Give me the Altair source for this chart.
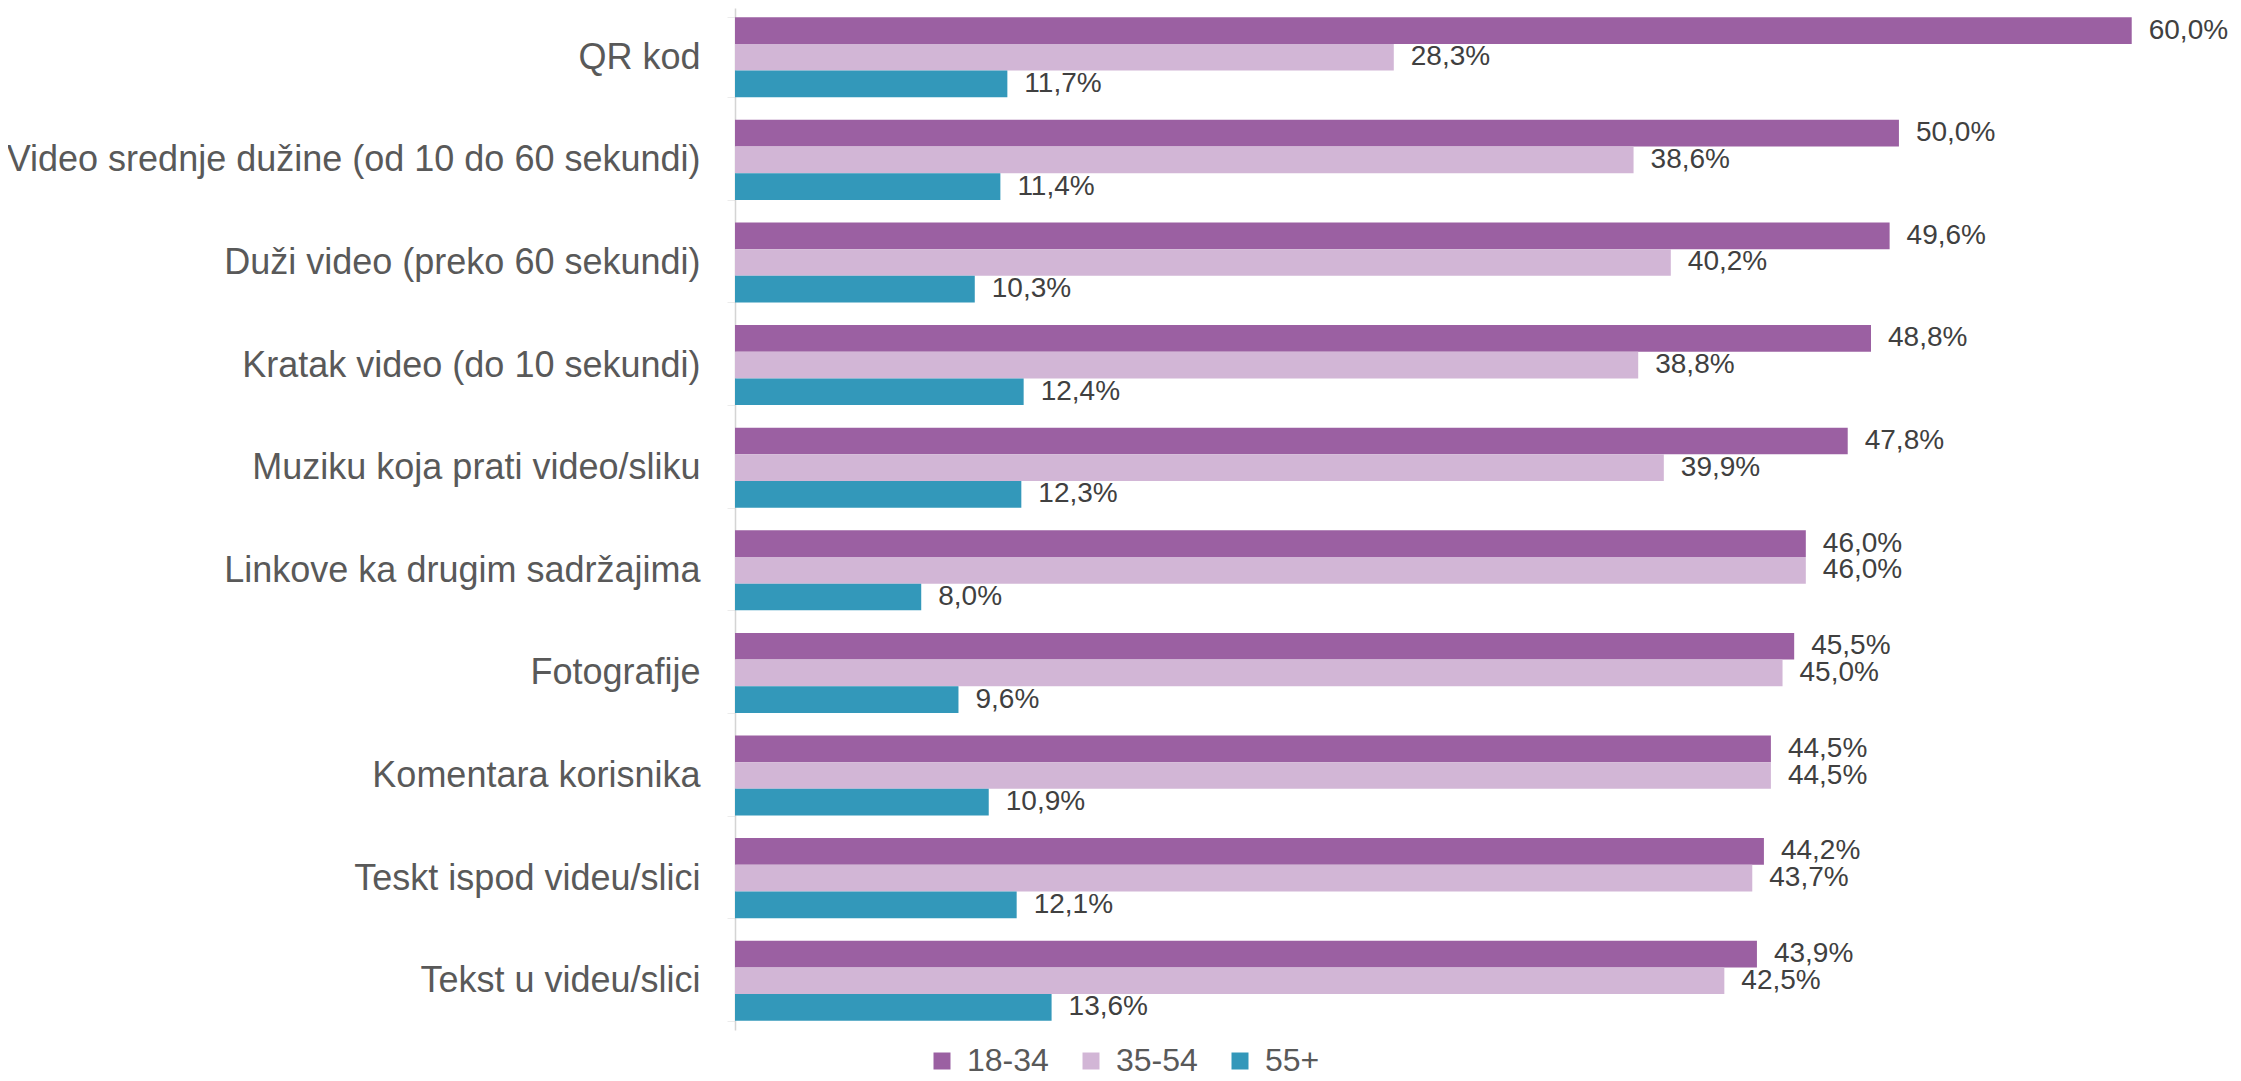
import altair as alt
import pandas as pd

categories = [
    "QR kod",
    "Video srednje dužine (od 10 do 60 sekundi)",
    "Duži video (preko 60 sekundi)",
    "Kratak video (do 10 sekundi)",
    "Muziku koja prati video/sliku",
    "Linkove ka drugim sadržajima",
    "Fotografije",
    "Komentara korisnika",
    "Teskt ispod videu/slici",
    "Tekst u videu/slici",
]
groups = ["18-34", "35-54", "55+"]
colors = ["#9B60A2", "#D2B6D6", "#3398BA"]

v_18_34 = [60.0, 50.0, 49.6, 48.8, 47.8, 46.0, 45.5, 44.5, 44.2, 43.9]
v_35_54 = [28.3, 38.6, 40.2, 38.8, 39.9, 46.0, 45.0, 44.5, 43.7, 42.5]
v_55 = [11.7, 11.4, 10.3, 12.4, 12.3, 8.0, 9.6, 10.9, 12.1, 13.6]

rows = []
for g, vals in zip(groups, [v_18_34, v_35_54, v_55]):
    for c, v in zip(categories, vals):
        rows.append({"cat": c, "grp": g, "val": v,
                     "lbl": f"{v:.1f}".replace(".", ",") + "%"})
df = pd.DataFrame(rows)

y_enc = alt.Y("cat:N", sort=categories,
              scale=alt.Scale(paddingInner=0.22, paddingOuter=0.09),
              axis=alt.Axis(title=None, labelFontSize=36, labelColor="#595959",
                            labelFont="Liberation Sans", labelPadding=27,
                            labelLimit=800,
                            domainColor="#d4d4d4", domainWidth=1.5,
                            tickColor="#ececec", tickSize=8, tickBand="extent"))
yoff = alt.YOffset("grp:N", sort=groups)
x_enc = alt.X("val:Q", scale=alt.Scale(domain=[0, 61], nice=False), axis=None)

base = alt.Chart(df)

bars = base.mark_bar().encode(
    y=y_enc, yOffset=yoff, x=x_enc,
    color=alt.Color("grp:N", sort=groups,
                    scale=alt.Scale(domain=groups, range=colors),
                    legend=alt.Legend(title=None, orient="none", direction="horizontal",
                                      legendX=191, legendY=1037,
                                      symbolType="square", symbolSize=289,
                                      symbolStrokeWidth=0,
                                      labelFontSize=32, labelColor="#595959",
                                      labelFont="Liberation Sans",
                                      labelOffset=9, columnPadding=26)),
)

labels = base.mark_text(align="left", baseline="middle", dx=17, fontSize=28,
                        font="Liberation Sans", color="#404040").encode(
    y=alt.Y("cat:N", sort=categories), yOffset=yoff, x=x_enc, text="lbl:N"
)

chart = (bars + labels).properties(
    width=1420, height=1022,
    autosize=alt.AutoSizeParams(type="none"),
    padding={"left": 727, "top": 0, "right": 78, "bottom": 51},
).configure_view(stroke=None)

chart.save("out.html", embed_options={"renderer": "svg", "actions": False})
